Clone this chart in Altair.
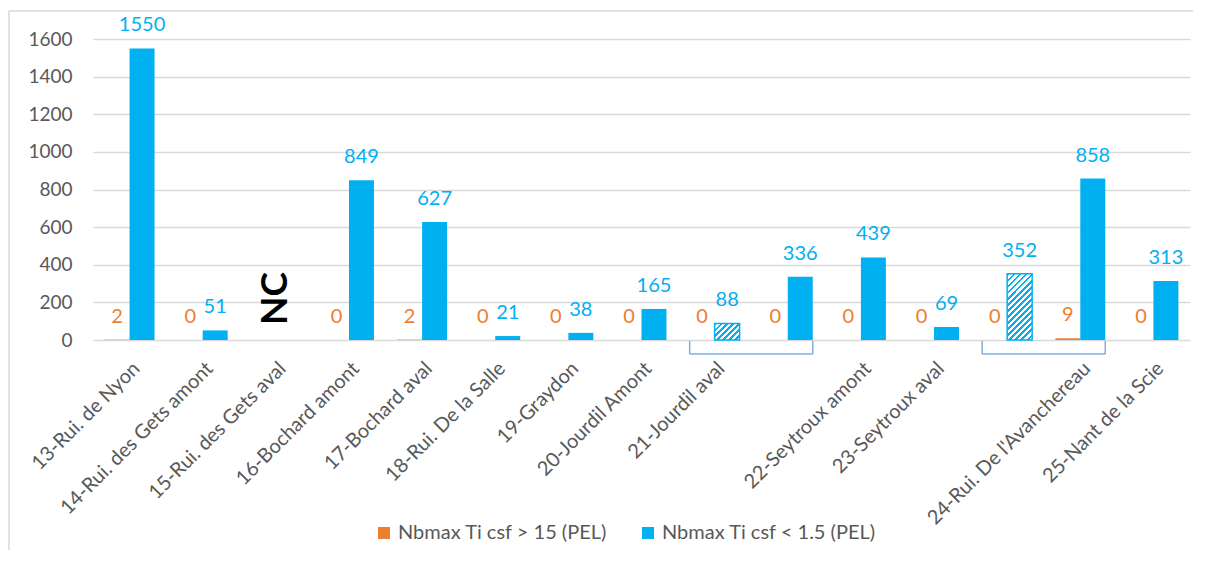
import altair as alt
import pandas as pd

# ---------------- data ----------------
slots = [
    "13-Rui. de Nyon",
    "14-Rui. des Gets amont",
    "15-Rui. des Gets aval",
    "16-Bochard amont",
    "17-Bochard aval",
    "18-Rui. De la Salle",
    "19-Graydon",
    "20-Jourdil Amont",
    "21-Jourdil aval",
    "21-Jourdil aval#2",
    "22-Seytroux amont",
    "23-Seytroux aval",
    "24-Rui. De l'Avanchereau#1",
    "24-Rui. De l'Avanchereau",
    "25-Nant de la Scie",
]
orange_vals = [2, 0, None, 0, 2, 0, 0, 0, 0, 0, 0, 0, 0, 9, 0]
blue_vals = [1550, 51, None, 849, 627, 21, 38, 165, 88, 336, 439, 69, 352, 858, 313]
hatched = [False, False, False, False, False, False, False, False, True, False, False, False, True, False, False]
y_ticks = [0, 200, 400, 600, 800, 1000, 1200, 1400, 1600]

nc_slot = ["15-Rui. des Gets aval"]
bracket_start = ["21-Jourdil aval", "24-Rui. De l'Avanchereau#1"]
bracket_end = ["21-Jourdil aval#2", "24-Rui. De l'Avanchereau"]

S_OR = "Nbmax Ti csf > 15 (PEL)"
S_BL = "Nbmax Ti csf < 1.5 (PEL)"
series = [S_OR, S_BL]

# ---------------- styles ----------------
ORANGE = "#ED7D31"
BLUE = "#00B0F0"
GRAY_TXT = "#595959"
GRID = "#D9D9D9"
FONT = "Lato"
W, H = 1097, 301
YMAX = 1600

rows = []
for i, s in enumerate(slots):
    if orange_vals[i] is not None:
        rows.append(dict(slot=s, series=S_OR, value=orange_vals[i], hatch=False))
    if blue_vals[i] is not None:
        rows.append(dict(slot=s, series=S_BL, value=blue_vals[i], hatch=hatched[i]))
df = pd.DataFrame(rows)

x_scale = alt.Scale(domain=slots, paddingInner=0.317, paddingOuter=0.1585)
x_axis = alt.Axis(
    title=None, labelAngle=-45, labelAlign="right", labelBaseline="top",
    labelExpr="indexof(datum.label, '#') >= 0 ? '' : datum.label",
    ticks=False, domain=False, grid=False, labelFont=FONT, labelFontSize=20,
    labelColor=GRAY_TXT, labelPadding=18, labelLimit=400, labelOverlap=False,
)


def make_x(band=None):
    if band is None:
        return alt.X("slot:N", sort=slots, scale=x_scale, axis=x_axis)
    return alt.X("slot:N", sort=slots, scale=x_scale, axis=x_axis, bandPosition=band)


xoff = alt.XOffset("series:N", sort=series,
                   scale=alt.Scale(domain=series, paddingInner=0, paddingOuter=0))
y_scale = alt.Scale(domain=[0, YMAX], nice=False)
y_axis = alt.Axis(title=None, values=y_ticks, tickCount=len(y_ticks), format="d", ticks=False,
                  domain=False, gridColor=GRID, gridWidth=1.3, labelFont=FONT,
                  labelFontSize=19, labelColor=GRAY_TXT, labelPadding=21, labelOverlap=False)
y = alt.Y("value:Q", scale=y_scale, axis=y_axis)
y0 = alt.YDatum(0, scale=y_scale, axis=y_axis)
y20 = alt.Y2Datum(0)
color_scale = alt.Scale(domain=series, range=[ORANGE, BLUE])

base = alt.Chart(df)

bars = base.transform_filter("!datum.hatch").mark_bar().encode(
    x=make_x(), xOffset=xoff, y=y,
    color=alt.Color("series:N", scale=color_scale, sort=series, legend=alt.Legend(
        title=None, orient="none", legendX=281, legendY=484, direction="horizontal",
        symbolType="square", symbolSize=144, symbolStrokeWidth=0,
        labelFont=FONT, labelFontSize=20, labelColor=GRAY_TXT, labelLimit=400,
        columnPadding=30, labelOffset=4, padding=0)),
)


def stripes(value):
    h = value / YMAX * H
    w = 25.0
    k = (w + h) / (w * w + h * h)
    gx, gy = w * k, h * k
    n = max(4, int(round((w + h) / 1.414 / 4.3)))
    stops = []
    for j in range(n):
        a, b, c = j / n, (j + 0.45) / n, (j + 1) / n
        stops += [alt.GradientStop(offset=a, color=BLUE), alt.GradientStop(offset=b, color=BLUE),
                  alt.GradientStop(offset=b, color="white"), alt.GradientStop(offset=c, color="white")]
    return alt.LinearGradient(gradient="linear", stops=stops, x1=0, y1=0, x2=gx, y2=gy)


hatch_layers = []
for i, s in enumerate(slots):
    if hatched[i]:
        hatch_layers.append(
            base.transform_filter(alt.FieldEqualPredicate(field="slot", equal=s))
            .transform_filter("datum.hatch")
            .mark_bar(fill=stripes(blue_vals[i]), stroke=BLUE, strokeWidth=1.5)
            .encode(x=make_x(), xOffset=xoff, y=y)
        )

labels = base.mark_text(font=FONT, fontSize=20, baseline="alphabetic", dy=-17).encode(
    x=make_x(), xOffset=xoff, y=y,
    text=alt.Text("value:Q", format="d"),
    color=alt.Color("series:N", scale=color_scale, sort=series, legend=None),
)

br = pd.DataFrame({"slot": bracket_start, "slot_end": bracket_end})
br_end = pd.DataFrame({"slot": bracket_end})
BR_COL = "#7FAEDD"
br_h = alt.Chart(br).mark_rule(color=BR_COL, strokeWidth=1.5, yOffset=14).encode(
    x=make_x(0), x2=alt.X2("slot_end:N", bandPosition=1), y=y0)
br_l = alt.Chart(br).mark_rule(color=BR_COL, strokeWidth=1.5, yOffset=1, y2Offset=14).encode(
    x=make_x(0), y=y0, y2=y20)
br_r = alt.Chart(br_end).mark_rule(color=BR_COL, strokeWidth=1.5, yOffset=1, y2Offset=14).encode(
    x=make_x(1), y=y0, y2=y20)

nc = alt.Chart(pd.DataFrame({"slot": nc_slot, "t": ["NC"]})).mark_text(
    angle=270, align="left", baseline="middle", dx=15, fontSize=37, fontWeight="bold",
    font=FONT, color="black").encode(x=make_x(0.5), y=y0, text="t:N")

one = pd.DataFrame({"a": [0]})
border_top = alt.Chart(one).mark_rule(color=GRID, strokeWidth=1.5, clip=False).encode(
    x=alt.value(-84), x2=alt.value(W + 3), y=alt.value(-28))
border_left = alt.Chart(one).mark_rule(color=GRID, strokeWidth=1.5, clip=False).encode(
    x=alt.value(-84), y=alt.value(-28), y2=alt.value(H + 212))

chart = alt.layer(bars, *hatch_layers, br_h, br_l, br_r, labels, nc, border_top, border_left).properties(
    width=W, height=H,
    autosize=alt.AutoSizeParams(type="none"),
    padding={"left": 85, "top": 31, "right": 3, "bottom": 210},
    background="white",
).configure_view(stroke=None)

chart.save("out.html", embed_options={"renderer": "svg", "actions": False})
